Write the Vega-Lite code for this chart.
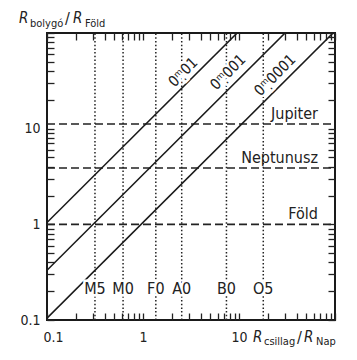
{
  "$schema": "https://vega.github.io/schema/vega-lite/v6.json",
  "width": 288,
  "height": 287,
  "autosize": {"type": "none"},
  "padding": {"left": 47, "top": 33, "right": 22, "bottom": 40},
  "background": "white",
  "config": {
    "view": {"stroke": "#1a1a1a", "strokeWidth": 2},
    "font": "Liberation Sans Narrow, DejaVu Sans Condensed, sans-serif",
    "text": {"font": "Liberation Sans Narrow, DejaVu Sans Condensed, sans-serif", "color": "#222"},
    "axis": {"labelFont": "Liberation Sans Narrow, DejaVu Sans Condensed, sans-serif", "labelFontSize": 14, "labelColor": "#222", "tickColor": "#222", "tickWidth": 1.3, "grid": false, "domain": false, "title": null}
  },
  "datasets": {
    "spectral": [
      {"cls": "M5", "r": 0.316},
      {"cls": "M0", "r": 0.62},
      {"cls": "F0", "r": 1.36},
      {"cls": "A0", "r": 2.53},
      {"cls": "B0", "r": 7.4},
      {"cls": "O5", "r": 17.9}
    ],
    "planets": [
      {"name": "Jupiter", "r": 11.2},
      {"name": "Neptunusz", "r": 3.88},
      {"name": "Föld", "r": 1}
    ],
    "depth": [
      {"series": "0.01", "x": 0.1, "y": 1.045},
      {"series": "0.01", "x": 9.57, "y": 100},
      {"series": "0.001", "x": 0.1, "y": 0.331},
      {"series": "0.001", "x": 30.2, "y": 100},
      {"series": "0.0001", "x": 0.1, "y": 0.1047},
      {"series": "0.0001", "x": 95.5, "y": 100}
    ],
    "depthLabels": [
      {"lab": "0ᵐ̣01", "x": 2.61, "y": 39.1},
      {"lab": "0ᵐ̣001", "x": 7.67, "y": 39.1},
      {"lab": "0ᵐ̣0001", "x": 23.7, "y": 36.4}
    ]
  },
  "layer": [
    {
      "data": {"name": "spectral"},
      "mark": {"type": "rule", "strokeDash": [1.5, 2.2], "strokeWidth": 1.5, "color": "#222"},
      "encoding": {
        "x": {"field": "r", "type": "quantitative", "scale": {"type": "log", "domain": [0.1, 100]},
          "axis": {"orient": "bottom", "values": [0.1,0.2,0.3,0.4,0.5,0.6,0.7,0.8,0.9,1,2,3,4,5,6,7,8,9,10,20,30,40,50,60,70,80,90,100],
            "labelExpr": "datum.value == 0.1 ? '0.1' : datum.value == 1 ? '1' : datum.value == 10 ? '10' : ''",
            "tickSize": -7, "labelPadding": 17, "labelFlush": true, "labelFlushOffset": 4, "labelBaseline": "top"}},
        "y": {"datum": 0.1, "type": "quantitative", "scale": {"type": "log", "domain": [0.1, 100]}, "axis": null},
        "y2": {"datum": 100}
      }
    },
    {
      "data": {"name": "planets"},
      "mark": {"type": "rule", "strokeDash": [8, 4], "strokeWidth": 1.6, "color": "#222"},
      "encoding": {
        "y": {"field": "r", "type": "quantitative", "scale": {"type": "log", "domain": [0.1, 100]},
          "axis": {"orient": "left", "values": [0.1,0.2,0.3,0.4,0.5,0.6,0.7,0.8,0.9,1,2,3,4,5,6,7,8,9,10,20,30,40,50,60,70,80,90,100],
            "labelExpr": "datum.value == 0.1 ? '0.1' : datum.value == 1 ? '1' : datum.value == 10 ? '10' : ''",
            "tickSize": -7, "labelPadding": 14}},
        "x": {"datum": 0.1, "type": "quantitative", "scale": {"type": "log", "domain": [0.1, 100]}, "axis": null},
        "x2": {"datum": 100}
      }
    },
    {
      "data": {"name": "depth"},
      "mark": {"type": "line", "strokeWidth": 1.6, "color": "#1a1a1a", "clip": true},
      "encoding": {
        "x": {"field": "x", "type": "quantitative", "scale": {"type": "log", "domain": [0.1, 100]},
          "axis": {"orient": "top", "values": [0.1,0.2,0.3,0.4,0.5,0.6,0.7,0.8,0.9,1,2,3,4,5,6,7,8,9,10,20,30,40,50,60,70,80,90,100], "labels": false, "tickSize": -7}},
        "y": {"field": "y", "type": "quantitative", "scale": {"type": "log", "domain": [0.1, 100]},
          "axis": {"orient": "right", "values": [0.1,0.2,0.3,0.4,0.5,0.6,0.7,0.8,0.9,1,2,3,4,5,6,7,8,9,10,20,30,40,50,60,70,80,90,100], "labels": false, "tickSize": -7}},
        "detail": {"field": "series"}
      }
    },
    {
      "data": {"name": "depthLabels"},
      "mark": {"type": "text", "angle": 315, "fontSize": 15, "align": "center", "baseline": "middle", "stroke": "white", "strokeWidth": 5, "fill": "white"},
      "encoding": {
        "x": {"field": "x", "type": "quantitative", "axis": null},
        "y": {"field": "y", "type": "quantitative", "axis": null},
        "text": {"field": "lab"}
      }
    },
    {
      "data": {"name": "depthLabels"},
      "mark": {"type": "text", "angle": 315, "fontSize": 15, "align": "center", "baseline": "middle", "color": "#222"},
      "encoding": {
        "x": {"field": "x", "type": "quantitative", "axis": null},
        "y": {"field": "y", "type": "quantitative", "axis": null},
        "text": {"field": "lab"}
      }
    },
    {
      "data": {"name": "spectral"},
      "mark": {"type": "text", "fontSize": 16, "align": "center", "baseline": "middle", "stroke": "white", "strokeWidth": 5, "fill": "white"},
      "encoding": {
        "x": {"field": "r", "type": "quantitative", "axis": null},
        "y": {"datum": 0.21, "type": "quantitative", "axis": null},
        "text": {"field": "cls"}
      }
    },
    {
      "data": {"name": "spectral"},
      "mark": {"type": "text", "fontSize": 16, "align": "center", "baseline": "middle", "color": "#222"},
      "encoding": {
        "x": {"field": "r", "type": "quantitative", "axis": null},
        "y": {"datum": 0.21, "type": "quantitative", "axis": null},
        "text": {"field": "cls"}
      }
    },
    {
      "data": {"name": "planets"},
      "mark": {"type": "text", "fontSize": 16, "align": "right", "baseline": "alphabetic", "dx": -17, "dy": -5, "color": "#222"},
      "encoding": {
        "x": {"datum": 100, "type": "quantitative", "axis": null},
        "y": {"field": "r", "type": "quantitative", "axis": null},
        "text": {"field": "name"}
      }
    },
    {
      "data": {"values": [{"t": "R"}]},
      "mark": {"type": "text", "fontSize": 15, "fontStyle": "italic", "align": "left", "baseline": "alphabetic", "dx": -28, "dy": -10, "color": "#222"},
      "encoding": {"x": {"datum": 0.1, "type": "quantitative", "axis": null}, "y": {"datum": 100, "type": "quantitative", "axis": null}, "text": {"field": "t"}}
    },
    {
      "data": {"values": [{"t": "bolygó"}]},
      "mark": {"type": "text", "fontSize": 11, "align": "left", "baseline": "alphabetic", "dx": -17, "dy": -6, "color": "#222"},
      "encoding": {"x": {"datum": 0.1, "type": "quantitative", "axis": null}, "y": {"datum": 100, "type": "quantitative", "axis": null}, "text": {"field": "t"}}
    },
    {
      "data": {"values": [{"t": "/"}]},
      "mark": {"type": "text", "fontSize": 16, "align": "left", "baseline": "alphabetic", "dx": 18, "dy": -9, "color": "#222"},
      "encoding": {"x": {"datum": 0.1, "type": "quantitative", "axis": null}, "y": {"datum": 100, "type": "quantitative", "axis": null}, "text": {"field": "t"}}
    },
    {
      "data": {"values": [{"t": "R"}]},
      "mark": {"type": "text", "fontSize": 15, "fontStyle": "italic", "align": "left", "baseline": "alphabetic", "dx": 26, "dy": -10, "color": "#222"},
      "encoding": {"x": {"datum": 0.1, "type": "quantitative", "axis": null}, "y": {"datum": 100, "type": "quantitative", "axis": null}, "text": {"field": "t"}}
    },
    {
      "data": {"values": [{"t": "Föld"}]},
      "mark": {"type": "text", "fontSize": 11, "align": "left", "baseline": "alphabetic", "dx": 38, "dy": -6, "color": "#222"},
      "encoding": {"x": {"datum": 0.1, "type": "quantitative", "axis": null}, "y": {"datum": 100, "type": "quantitative", "axis": null}, "text": {"field": "t"}}
    },
    {
      "data": {"values": [{"t": "R"}]},
      "mark": {"type": "text", "fontSize": 15, "fontStyle": "italic", "align": "left", "baseline": "alphabetic", "dx": 14, "dy": 22, "color": "#222"},
      "encoding": {"x": {"datum": 10, "type": "quantitative", "axis": null}, "y": {"datum": 0.1, "type": "quantitative", "axis": null}, "text": {"field": "t"}}
    },
    {
      "data": {"values": [{"t": "csillag"}]},
      "mark": {"type": "text", "fontSize": 11, "align": "left", "baseline": "alphabetic", "dx": 25, "dy": 25, "color": "#222"},
      "encoding": {"x": {"datum": 10, "type": "quantitative", "axis": null}, "y": {"datum": 0.1, "type": "quantitative", "axis": null}, "text": {"field": "t"}}
    },
    {
      "data": {"values": [{"t": "/"}]},
      "mark": {"type": "text", "fontSize": 16, "align": "left", "baseline": "alphabetic", "dx": 58, "dy": 23, "color": "#222"},
      "encoding": {"x": {"datum": 10, "type": "quantitative", "axis": null}, "y": {"datum": 0.1, "type": "quantitative", "axis": null}, "text": {"field": "t"}}
    },
    {
      "data": {"values": [{"t": "R"}]},
      "mark": {"type": "text", "fontSize": 15, "fontStyle": "italic", "align": "left", "baseline": "alphabetic", "dx": 65, "dy": 22, "color": "#222"},
      "encoding": {"x": {"datum": 10, "type": "quantitative", "axis": null}, "y": {"datum": 0.1, "type": "quantitative", "axis": null}, "text": {"field": "t"}}
    },
    {
      "data": {"values": [{"t": "Nap"}]},
      "mark": {"type": "text", "fontSize": 11, "align": "left", "baseline": "alphabetic", "dx": 77, "dy": 25, "color": "#222"},
      "encoding": {"x": {"datum": 10, "type": "quantitative", "axis": null}, "y": {"datum": 0.1, "type": "quantitative", "axis": null}, "text": {"field": "t"}}
    }
  ],
  "resolve": {"axis": {"x": "independent", "y": "independent"}}
}
